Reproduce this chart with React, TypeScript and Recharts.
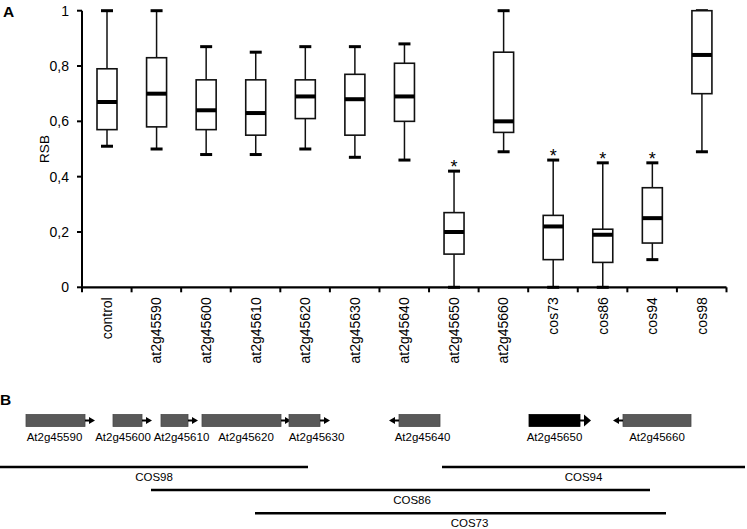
import React from 'react';
import {
  ComposedChart,
  Bar,
  Scatter,
  XAxis,
  YAxis,
  ReferenceArea,
  ReferenceLine,
} from 'recharts';

// ---------- Panel A data ----------
const categories = [
  'control', 'at2g45590', 'at2g45600', 'at2g45610', 'at2g45620', 'at2g45630',
  'at2g45640', 'at2g45650', 'at2g45660', 'cos73', 'cos86', 'cos94', 'cos98',
];
const whiskerLow = [0.51, 0.5, 0.48, 0.48, 0.5, 0.47, 0.46, 0.0, 0.49, 0.0, 0.0, 0.1, 0.49];
const quartile1 = [0.57, 0.58, 0.57, 0.55, 0.61, 0.55, 0.6, 0.12, 0.56, 0.1, 0.09, 0.16, 0.7];
const medians = [0.67, 0.7, 0.64, 0.63, 0.69, 0.68, 0.69, 0.2, 0.6, 0.22, 0.19, 0.25, 0.84];
const quartile3 = [0.79, 0.83, 0.75, 0.75, 0.75, 0.77, 0.81, 0.27, 0.85, 0.26, 0.21, 0.36, 1.0];
const whiskerHigh = [1.0, 1.0, 0.87, 0.85, 0.87, 0.87, 0.88, 0.42, 1.0, 0.46, 0.45, 0.45, 1.0];
const significant = [false, false, false, false, false, false, false, true, false, true, true, true, false];
const yTicks = [0, 0.2, 0.4, 0.6, 0.8, 1];

// ---------- Panel B data ----------
const geneNames = ['At2g45590', 'At2g45600', 'At2g45610', 'At2g45620', 'At2g45630', 'At2g45640', 'At2g45650', 'At2g45660'];
const geneStart = [26, 113, 161, 202, 289, 399, 529, 623];
const geneEnd = [85, 142, 188, 281, 320, 440, 580, 691];
const geneStrand = [1, 1, 1, 1, 1, -1, 1, -1];
const geneHighlighted = [false, false, false, false, false, false, true, false];
const cosNames = ['COS98', 'COS94', 'COS86', 'COS73'];
const cosStart = [0, 442, 151, 255];
const cosEnd = [308, 745, 650, 666];
const cosLane = [2, 2, 3, 4];
const geneLane = 0;

// layout tweaks (not data)
const geneLabelDx = [-1, -4.5, 7, 4.5, 12, 3, 0, 0];
const cosLabelDx = [0, -10, 11.5, 9];

const FONT = '"Liberation Sans", Arial, Helvetica, sans-serif';

const boxRows = categories.map((name, i) => ({
  name,
  low: whiskerLow[i],
  q1: quartile1[i],
  median: medians[i],
  q3: quartile3[i],
  high: whiskerHigh[i],
  sig: significant[i],
}));

const genes = geneNames.map((name, i) => ({
  name,
  start: geneStart[i],
  end: geneEnd[i],
  lane: geneLane,
  strand: geneStrand[i],
  highlighted: geneHighlighted[i],
  dx: geneLabelDx[i],
}));

const cosmids = cosNames.map((name, i) => ({
  name,
  start: cosStart[i],
  end: cosEnd[i],
  lane: cosLane[i],
  dx: cosLabelDx[i],
}));

const BoxShape = (props: any) => {
  const { x, y, width, height, payload } = props;
  if (!payload) return null;
  const { low, q1, median, q3, high, sig } = payload;
  const top = Math.min(y, y + height);
  const h = Math.abs(height);
  const span = high - low || 1;
  const py = (v: number) => top + ((high - v) / span) * h;
  const cx = x + width / 2;
  const capHalf = 6;
  const stroke = '#111';
  return (
    <g>
      <line x1={cx} x2={cx} y1={py(high)} y2={py(q3)} stroke={stroke} strokeWidth={1.5} />
      <line x1={cx} x2={cx} y1={py(q1)} y2={py(low)} stroke={stroke} strokeWidth={1.5} />
      <line x1={cx - capHalf} x2={cx + capHalf} y1={py(high)} y2={py(high)} stroke="#000" strokeWidth={3} />
      <line x1={cx - capHalf} x2={cx + capHalf} y1={py(low)} y2={py(low)} stroke="#000" strokeWidth={3} />
      <rect x={x} y={py(q3)} width={width} height={py(q1) - py(q3)} fill="#fff" stroke={stroke} strokeWidth={1.6} />
      <line x1={x} x2={x + width} y1={py(median)} y2={py(median)} stroke="#000" strokeWidth={4} />
      {sig && (
        <text
          x={cx}
          y={py(high) + 2}
          textAnchor="middle"
          fontFamily={FONT}
          fontSize={18}
          fill="#000"
          stroke="none"
        >
          *
        </text>
      )}
    </g>
  );
};

const XTick = (props: any) => {
  const { x, y, payload, index } = props;
  const half = payload && payload.offset ? payload.offset : 24.8;
  const axisY = y - 10;
  return (
    <g>
      <line x1={x - half} x2={x - half} y1={axisY} y2={axisY + 5} stroke="#000" strokeWidth={2} />
      {index === categories.length - 1 && (
        <line x1={x + half} x2={x + half} y1={axisY} y2={axisY + 5} stroke="#000" strokeWidth={2} />
      )}
      <text
        transform={`translate(${x},${y}) rotate(-90)`}
        textAnchor="end"
        dominantBaseline="central"
        fontFamily={FONT}
        fontSize={14}
        fill="#000"
      >
        {payload.value}
      </text>
    </g>
  );
};

const formatY = (v: number) => String(v).replace('.', ',');

const RsbLabel = (props: any) => {
  const { viewBox } = props;
  const cx = viewBox.x + 22.5;
  const cy = viewBox.y + viewBox.height / 2;
  return (
    <text
      transform={`translate(${cx},${cy}) rotate(-90)`}
      textAnchor="middle"
      dominantBaseline="central"
      fontFamily={FONT}
      fontSize={13.5}
      fill="#000"
    >
      RSB
    </text>
  );
};

const GeneShape = (props: any) => {
  const { x, y, width, height, gene } = props;
  const cy = y + height / 2;
  const boxH = 12;
  const big = gene.highlighted;
  const headHalf = big ? 6 : 3.5;
  const headLen = big ? 6 : 5;
  const stemLen = 5;
  const fill = big ? '#000' : '#595959';
  const elems: any[] = [];
  if (gene.strand > 0) {
    const x0 = x + width;
    elems.push(<line key="s" x1={x0} x2={x0 + stemLen} y1={cy} y2={cy} stroke="#000" strokeWidth={2} />);
    elems.push(
      <polygon
        key="h"
        points={`${x0 + stemLen - 1},${cy - headHalf} ${x0 + stemLen + headLen},${cy} ${x0 + stemLen - 1},${cy + headHalf}`}
        fill="#000"
      />
    );
  } else {
    const x0 = x;
    elems.push(<line key="s" x1={x0} x2={x0 - stemLen} y1={cy} y2={cy} stroke="#000" strokeWidth={2} />);
    elems.push(
      <polygon
        key="h"
        points={`${x0 - stemLen + 1},${cy - headHalf} ${x0 - stemLen - headLen},${cy} ${x0 - stemLen + 1},${cy + headHalf}`}
        fill="#000"
      />
    );
  }
  return (
    <g>
      <rect x={x} y={cy - boxH / 2} width={width} height={boxH} fill={fill} stroke={big ? '#000' : '#4a4a4a'} strokeWidth={0.8} />
      {elems}
      <text
        x={x + width / 2 + gene.dx}
        y={cy + 16}
        textAnchor="middle"
        dominantBaseline="central"
        fontFamily={FONT}
        fontSize={11.5}
        fill="#000"
      >
        {gene.name}
      </text>
    </g>
  );
};

const CosLabel = (props: any) => {
  const { viewBox, cos } = props;
  if (!viewBox) return null;
  return (
    <text
      x={viewBox.x + viewBox.width / 2 + cos.dx}
      y={viewBox.y + 10}
      textAnchor="middle"
      dominantBaseline="central"
      fontFamily={FONT}
      fontSize={11.5}
      fill="#000"
    >
      {cos.name}
    </text>
  );
};

const EmptyShape = () => <g />;

export default function App() {
  return (
    <div style={{ position: 'absolute', left: 0, top: 0, width: 747, height: 529, background: '#fff' }}>
      <div style={{ position: 'absolute', left: 0, top: 0 }}>
        <ComposedChart
          width={747}
          height={370}
          data={boxRows}
          margin={{ top: 10.7, right: 20.5, left: 22, bottom: 0 }}
        >
          <XAxis
            dataKey="name"
            type="category"
            height={82.7}
            interval={0}
            tickLine={false}
            tickSize={5}
            tickMargin={5}
            axisLine={{ stroke: '#000', strokeWidth: 2.2 }}
            tick={<XTick />}
          />
          <YAxis
            type="number"
            domain={[0, 1]}
            ticks={yTicks}
            width={60}
            tickSize={5}
            tickMargin={8}
            tickFormatter={formatY}
            axisLine={{ stroke: '#000', strokeWidth: 2 }}
            tickLine={{ stroke: '#000', strokeWidth: 2 }}
            tick={{ fill: '#000', fontSize: 14, fontFamily: FONT }}
            label={<RsbLabel />}
          />
          <Bar
            dataKey={(d: any) => [d.low, d.high]}
            barSize={20}
            isAnimationActive={false}
            shape={<BoxShape />}
          />
        </ComposedChart>
      </div>
      <div style={{ position: 'absolute', left: 0, top: 380 }}>
        <ComposedChart width={747} height={149} data={genes} margin={{ top: 0, right: 0, left: 0, bottom: 0 }}>
          <XAxis type="number" dataKey="start" domain={[0, 747]} allowDataOverflow hide />
          <YAxis type="number" dataKey="lane" domain={[-1.746, 4.677]} allowDataOverflow reversed hide />
          <Scatter data={genes} dataKey="lane" isAnimationActive={false} shape={<EmptyShape />} />
          {genes.map((g) => (
            <ReferenceArea
              key={g.name}
              x1={g.start}
              x2={g.end}
              y1={geneLane - 0.5}
              y2={geneLane + 0.5}
              ifOverflow="visible"
              shape={(p: any) => <GeneShape {...p} gene={g} />}
            />
          ))}
          {cosmids.map((c) => (
            <ReferenceLine
              key={c.name}
              segment={[
                { x: c.start, y: c.lane },
                { x: c.end, y: c.lane },
              ]}
              ifOverflow="visible"
              stroke="#000"
              strokeWidth={2.5}
              label={(p: any) => <CosLabel {...p} cos={c} />}
            />
          ))}
        </ComposedChart>
      </div>
      <svg width={747} height={529} style={{ position: 'absolute', left: 0, top: 0, pointerEvents: 'none' }}>
        <text x={3} y={17} fontFamily={FONT} fontWeight="bold" fontSize={15.5} fill="#000">A</text>
        <text x={0} y={405} fontFamily={FONT} fontWeight="bold" fontSize={15.5} fill="#000">B</text>
      </svg>
    </div>
  );
}
